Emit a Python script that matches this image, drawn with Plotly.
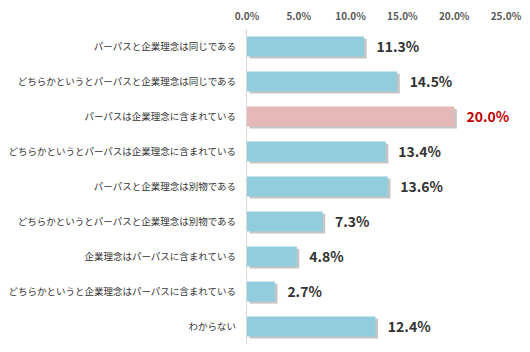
import plotly.graph_objects as go

categories = [
    "パーパスと企業理念は同じである",
    "どちらかというとパーパスと企業理念は同じである",
    "パーパスは企業理念に含まれている",
    "どちらかというとパーパスは企業理念に含まれている",
    "パーパスと企業理念は別物である",
    "どちらかというとパーパスと企業理念は別物である",
    "企業理念はパーパスに含まれている",
    "どちらかというと企業理念はパーパスに含まれている",
    "わからない",
]
values = [11.3, 14.5, 20.0, 13.4, 13.6, 7.3, 4.8, 2.7, 12.4]
tick_vals = [0, 5, 10, 15, 20, 25]
tick_text = ["0.0%", "5.0%", "10.0%", "15.0%", "20.0%", "25.0%"]

highlight = 2
bar_colors = ["#E6B8B7" if i == highlight else "#92CDDD" for i in range(len(values))]
text_colors = ["#C00000" if i == highlight else "#333333" for i in range(len(values))]
labels = ["\u00a0\u00a0\u00a0" + f"<b>{v:.1f}%</b>" for v in values]

FONT = "Noto Sans CJK JP"
W = 0.57

fig = go.Figure()
# shadow
fig.add_trace(go.Bar(
    y=categories, x=values, orientation="h", base=0.25,
    width=W, offset=-W / 2 + 0.06,
    marker=dict(color="rgba(90,90,90,0.35)", line=dict(width=0)),
    hoverinfo="skip", showlegend=False,
))
fig.add_trace(go.Bar(
    y=categories, x=values, orientation="h",
    width=W, offset=-W / 2,
    marker=dict(color=bar_colors, line=dict(width=0)),
    text=labels, textposition="outside", cliponaxis=False,
    textfont=dict(family=FONT, size=14, color=text_colors),
    showlegend=False,
))

fig.update_layout(
    width=530, height=352,
    margin=dict(l=241, r=22, t=29, b=8),
    paper_bgcolor="white", plot_bgcolor="white",
    barmode="overlay",
    font=dict(family=FONT, color="#333333"),
    xaxis=dict(
        side="top", range=[0, 25], tickvals=tick_vals, ticktext=tick_text,
        showgrid=False, zeroline=False, showline=False, ticks="",
        tickfont=dict(family=FONT, size=10, color="#595959", weight="bold"),
        ticklabelstandoff=6,
    ),
    yaxis=dict(
        autorange="reversed", showgrid=False, ticks="",
        showline=True, linecolor="#D9D9D9", linewidth=1,
        tickfont=dict(family=FONT, size=9.5, color="#333333"),
        ticklabelstandoff=8,
    ),
)

fig.write_html("out.html")
